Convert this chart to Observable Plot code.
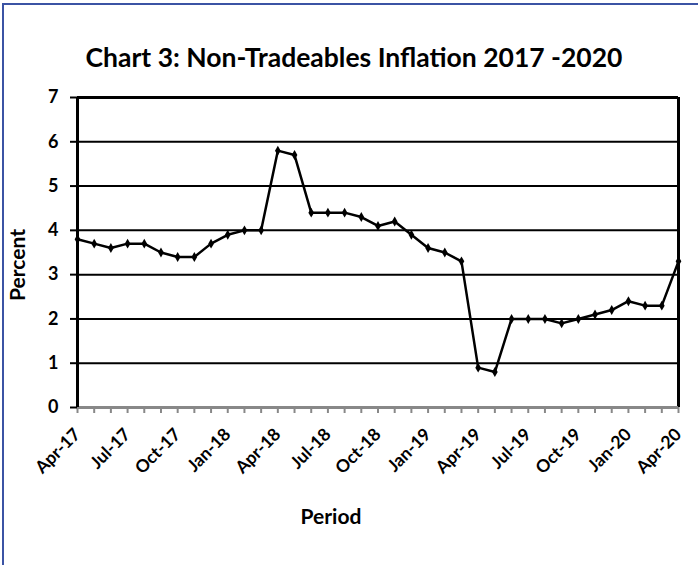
<!DOCTYPE html>
<html><head><meta charset="utf-8">
<script src="https://cdn.jsdelivr.net/npm/d3@7"></script>
<script src="https://cdn.jsdelivr.net/npm/@observablehq/plot@0.6"></script>
<style>
body{margin:0;background:#fff;}
#wrap{position:relative;width:698px;height:565px;overflow:hidden;background:#fff;}
#border{position:absolute;left:2px;top:3px;width:800px;height:700px;border:2px solid #3b53a4;box-sizing:border-box;}
#wrap svg{position:absolute;left:0;top:0;}
</style></head><body><div id="wrap"><div id="border"></div></div>
<script>
const periods = ["Apr-17","May-17","Jun-17","Jul-17","Aug-17","Sep-17","Oct-17","Nov-17","Dec-17",
  "Jan-18","Feb-18","Mar-18","Apr-18","May-18","Jun-18","Jul-18","Aug-18","Sep-18","Oct-18","Nov-18","Dec-18",
  "Jan-19","Feb-19","Mar-19","Apr-19","May-19","Jun-19","Jul-19","Aug-19","Sep-19","Oct-19","Nov-19","Dec-19",
  "Jan-20","Feb-20","Mar-20","Apr-20"];
const values = [3.8,3.7,3.6,3.7,3.7,3.5,3.4,3.4,3.7,
  3.9,4.0,4.0,5.8,5.7,4.4,4.4,4.4,4.3,4.1,4.2,3.9,
  3.6,3.5,3.3,0.9,0.8,2.0,2.0,2.0,1.9,2.0,2.1,2.2,
  2.4,2.3,2.3,3.3];
const tickLabels = ["Apr-17","Jul-17","Oct-17","Jan-18","Apr-18","Jul-18","Oct-18","Jan-19","Apr-19","Jul-19","Oct-19","Jan-20","Apr-20"];
const yTicks = [0,1,2,3,4,5,6,7];
const gridValues = [1,2,3,4,5,6];
const titleText = "Chart 3: Non-Tradeables Inflation 2017 -2020";
const xTitle = "Period";
const yTitle = "Percent";

const data = periods.map((p, i) => ({period: p, value: values[i]}));
const font = "Lato, 'DejaVu Sans', sans-serif";

const chart = Plot.plot({
  width: 698, height: 565,
  marginTop: 97, marginLeft: 77, marginRight: 20, marginBottom: 158,
  style: {fontFamily: font, background: "transparent", color: "#000"},
  x: {type: "point", domain: periods, padding: 0, round: false},
  y: {domain: [0, 7]},
  marks: [
    Plot.gridY(gridValues, {stroke: "#000", strokeOpacity: 1, strokeWidth: 2}),
    Plot.ruleY([7], {stroke: "#000", strokeWidth: 3}),
    Plot.ruleX([periods[periods.length - 1]], {stroke: "#000", strokeWidth: 3}),
    Plot.axisX(periods, {tickSize: 6, stroke: "#888", strokeWidth: 2, tickFormat: () => "", label: null}),
    Plot.ruleY([0], {stroke: "#888", strokeWidth: 3}),
    Plot.ruleX([periods[0]], {stroke: "#000", strokeWidth: 3}),
    Plot.axisY(yTicks, {tickSize: 7, tickPadding: 12, fontSize: 18, fontWeight: "bold", stroke: "#000", strokeWidth: 2, label: null}),
    Plot.axisX(tickLabels, {tickSize: 0, tickPadding: 24, tickRotate: -45, fontSize: 17.5, fontWeight: "bold", label: null}),
    Plot.line(data, {x: "period", y: "value", stroke: "#000", strokeWidth: 2.5}),
    Plot.dot(data, {x: "period", y: "value", symbol: "diamond", r: 3, fill: "#000"})
  ]
});

const svg = d3.select(chart);
svg.append("text").attr("x", 354).attr("y", 67).attr("text-anchor", "middle")
  .attr("font-family", font).attr("font-weight", "bold").attr("font-size", 26.5).text(titleText);
svg.append("text").attr("x", 331).attr("y", 524).attr("text-anchor", "middle")
  .attr("font-family", font).attr("font-weight", "bold").attr("font-size", 21).text(xTitle);
svg.append("text").attr("transform", "translate(25,265) rotate(-90)").attr("text-anchor", "middle")
  .attr("font-family", font).attr("font-weight", "bold").attr("font-size", 21).text(yTitle);

document.getElementById("wrap").appendChild(chart);
</script></body></html>
